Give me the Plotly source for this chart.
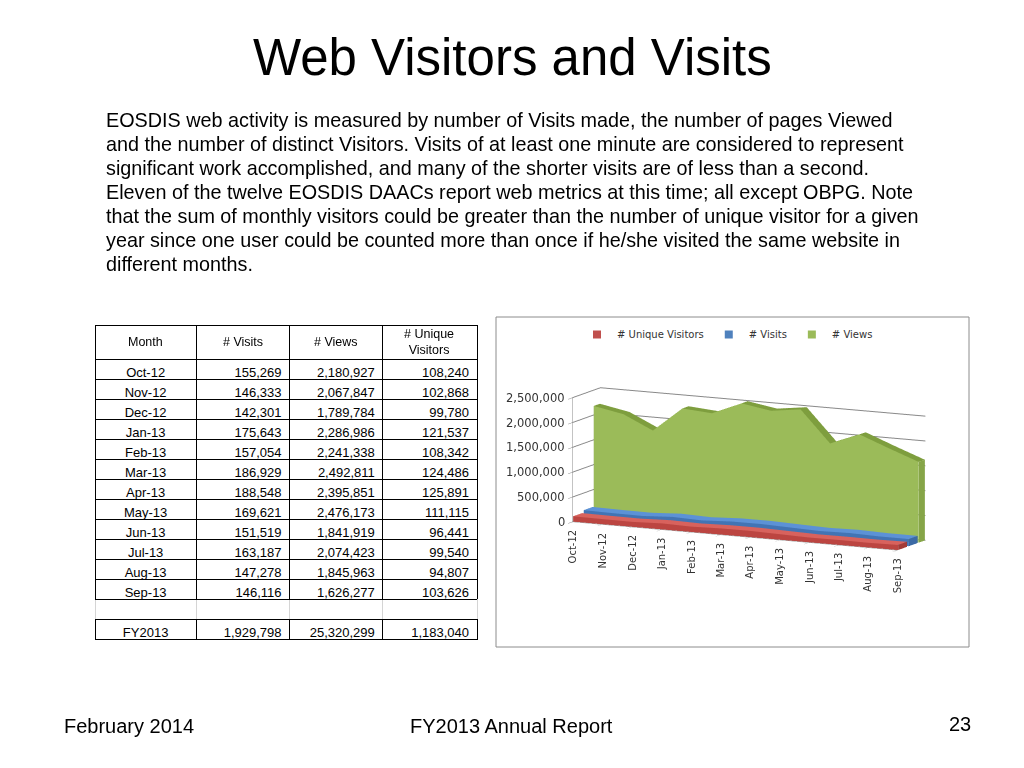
import plotly.graph_objects as go

# data
months = ["Oct-12", "Nov-12", "Dec-12", "Jan-13", "Feb-13", "Mar-13",
          "Apr-13", "May-13", "Jun-13", "Jul-13", "Aug-13", "Sep-13"]
visits = [155269, 146333, 142301, 175643, 157054, 186929,
          188548, 169621, 151519, 163187, 147278, 146116]
views = [2180927, 2067847, 1789784, 2286986, 2241338, 2492811,
         2395851, 2476173, 1841919, 2074423, 1845963, 1626277]
unique_visitors = [108240, 102868, 99780, 121537, 108342, 124486,
                   125891, 111115, 96441, 99540, 94807, 103626]
fy_label = "FY2013"
fy_totals = [1929798, 25320299, 1183040]  # visits, views, unique
table_header = ["Month", "# Visits", "# Views", "# Unique<br>Visitors"]
z_ticks = [0, 500000, 1000000, 1500000, 2000000, 2500000]

title = "Web Visitors and Visits"
body_lines = [
    "EOSDIS web activity is measured by number of Visits made, the number of pages Viewed",
    "and the number of distinct Visitors. Visits of at least one minute are considered to represent",
    "significant work accomplished, and many of the shorter visits are of less than a second.",
    "Eleven of the twelve EOSDIS DAACs report web metrics at this time; all except OBPG. Note",
    "that the sum of monthly visitors could be greater than the number of unique visitor for a given",
    "year since one user could be counted more than once if he/she visited the same website in",
    "different months.",
]

# the page adds an 8px body margin, so lay out in slide pixels and shift
OFF = 8
W, H = 1024 - OFF, 768 - OFF
SANS = "Liberation Sans, Arial, sans-serif"
CHART_FONT = "DejaVu Sans, sans-serif"


def px(x):
    return (x - OFF) / W


def py(y):
    return 1 - (y - OFF) / H


def ribbon(values, y0, y1, front, top, cap, name):
    xs, ys, zs = [], [], []
    for i, v in enumerate(values):
        xs += [i, i, i, i]
        ys += [y0, y0, y1, y1]
        zs += [0, v, v, 0]
    I, J, K, colors = [], [], [], []
    for i in range(len(values) - 1):
        a, b, c = 4 * i, 4 * i + 1, 4 * i + 2
        a2, b2, c2 = a + 4, b + 4, c + 4
        # front face
        I += [a, a]; J += [a2, b2]; K += [b2, b]; colors += [front, front]
        # top face
        I += [b, b]; J += [b2, c2]; K += [c2, c]; colors += [top, top]
    for s in (0, 4 * (len(values) - 1)):
        I += [s, s]; J += [s + 1, s + 2]; K += [s + 2, s + 3]; colors += [cap, cap]
    return go.Mesh3d(x=xs, y=ys, z=zs, i=I, j=J, k=K, facecolor=colors,
                     flatshading=True, name=name, hoverinfo="skip",
                     lighting=dict(ambient=1, diffuse=0, specular=0, roughness=1, fresnel=0))


fig = go.Figure()

# table
fmt = lambda v: f"{v:,}"
cells = [
    months + ["", fy_label],
    [fmt(v) for v in visits] + ["", fmt(fy_totals[0])],
    [fmt(v) for v in views] + ["", fmt(fy_totals[1])],
    [fmt(v) for v in unique_visitors] + ["", fmt(fy_totals[2])],
]
nrows = len(cells[0])
line_cols = [["black"] * (nrows - 2) + ["#d4d4d4", "black"] for _ in cells]
col_edges = [95, 196, 289, 382, 476]
fig.add_trace(go.Table(
    domain=dict(x=[px(col_edges[0]), px(col_edges[-1] + 1)], y=[py(660), py(325)]),
    columnwidth=[101, 93, 93, 94],
    header=dict(values=[""] * 4, height=34, fill_color="white",
                line=dict(color="black", width=1)),
    cells=dict(values=cells, height=20, align=["center", "right", "right", "right"],
               fill_color="white", line=dict(color=line_cols, width=1),
               font=dict(family=SANS, size=13, color="black")),
))
# header labels centred in their cells
for x0, x1, label in zip(col_edges[:-1], col_edges[1:], table_header):
    fig.add_annotation(text=label, x=px((x0 + x1) / 2), y=py(342), xref="paper", yref="paper",
                       showarrow=False, xanchor="center", yanchor="middle",
                       font=dict(family=SANS, size=12.5, color="black"))
# keep the rule under Sep-13 black (the grey spacer row draws over it)
fig.add_shape(type="line", xref="paper", yref="paper", layer="above",
              x0=px(col_edges[0]), x1=px(col_edges[-1] + 1), y0=py(599.5), y1=py(599.5),
              line=dict(color="black", width=1))

# 3d area chart: each series is a ribbon at its own depth
fig.add_trace(ribbon(unique_visitors, 0.02, 0.34, "#BC4541", "#D8625D", "#A33A36", "# Unique Visitors"))
fig.add_trace(ribbon(visits, 0.40, 0.72, "#4274B4", "#5C92D6", "#3C6AA5", "# Visits"))
fig.add_trace(ribbon(views, 0.76, 0.98, "#9BBB59", "#7E9E3E", "#86A548", "# Views"))

# legend entries
for name, col in [("# Unique Visitors", "#C0504D"), ("# Visits", "#4F81BD"), ("# Views", "#9BBB59")]:
    fig.add_trace(go.Scatter(x=[None], y=[None], mode="markers", name=name,
                             marker=dict(symbol="square", size=8, color=col)))

D = 2.5
eye_dir = (0.436, -0.882, 0.177)
axis_common = dict(showbackground=False, showspikes=False, title=dict(text=""))
chart_text = dict(family=CHART_FONT, size=10, color="#333")
scene_labels = [dict(x=i, y=0, z=0, text=m, textangle=-90, showarrow=False,
                     xanchor="center", yanchor="top", yshift=-6, font=chart_text)
                for i, m in enumerate(months)]
scene_labels += [dict(x=0, y=0, z=v, text=f"{v:,}", showarrow=False,
                      xanchor="right", yanchor="middle", xshift=-6,
                      font=dict(family=CHART_FONT, size=11.5, color="#333"))
                 for v in z_ticks]
fig.update_layout(
    width=W, height=H,
    margin=dict(l=0, r=0, t=0, b=0),
    paper_bgcolor="white", plot_bgcolor="white",
    xaxis=dict(visible=False), yaxis=dict(visible=False),
    showlegend=True,
    legend=dict(orientation="h", x=px(577), y=py(320), xanchor="left", yanchor="top",
                font=chart_text),
    scene=dict(
        domain=dict(x=[px(502), px(996)], y=[py(614), py(324)]),
        aspectmode="manual", aspectratio=dict(x=2.5, y=0.434, z=0.87),
        camera=dict(eye=dict(x=D * eye_dir[0], y=D * eye_dir[1], z=D * eye_dir[2]),
                    center=dict(x=0, y=0, z=0), up=dict(x=0, y=0, z=1),
                    projection=dict(type="orthographic")),
        xaxis=dict(range=[0, 11], showticklabels=False, showgrid=False, zeroline=False,
                   showline=True, linecolor="#999", ticks="outside", tickvals=list(range(12)),
                   tickcolor="#999", **axis_common),
        yaxis=dict(range=[0, 1], showticklabels=False, showgrid=False, zeroline=False,
                   showline=False, **axis_common),
        zaxis=dict(range=[0, 2500000], tickvals=z_ticks, showticklabels=False, showgrid=True,
                   gridcolor="#888", zeroline=False, showline=True, linecolor="#888",
                   ticks="outside", tickcolor="#888", **axis_common),
        annotations=scene_labels,
    ),
)

# chart frame
fig.add_shape(type="rect", xref="paper", yref="paper", layer="above",
              x0=px(496), x1=px(969), y0=py(647), y1=py(317),
              line=dict(color="#8c8c8c", width=1))

# slide text
fig.add_annotation(text=title, x=px(512), y=py(57), xref="paper", yref="paper",
                   showarrow=False, xanchor="center", yanchor="middle",
                   font=dict(family=SANS, size=51, color="black"))
for n, line in enumerate(body_lines):
    fig.add_annotation(text=line, x=px(104), y=py(120 + 24 * n), xref="paper", yref="paper",
                       showarrow=False, xanchor="left", yanchor="middle",
                       font=dict(family=SANS, size=19.8, color="black"))
fig.add_annotation(text="February 2014", x=px(62), y=py(726), xref="paper", yref="paper",
                   showarrow=False, xanchor="left", yanchor="middle",
                   font=dict(family=SANS, size=20, color="black"))
fig.add_annotation(text="FY2013 Annual Report", x=px(511), y=py(726), xref="paper", yref="paper",
                   showarrow=False, xanchor="center", yanchor="middle",
                   font=dict(family=SANS, size=20, color="black"))
fig.add_annotation(text="23", x=px(960), y=py(724), xref="paper", yref="paper",
                   showarrow=False, xanchor="center", yanchor="middle",
                   font=dict(family=SANS, size=20, color="black"))

fig.write_html("out.html")
